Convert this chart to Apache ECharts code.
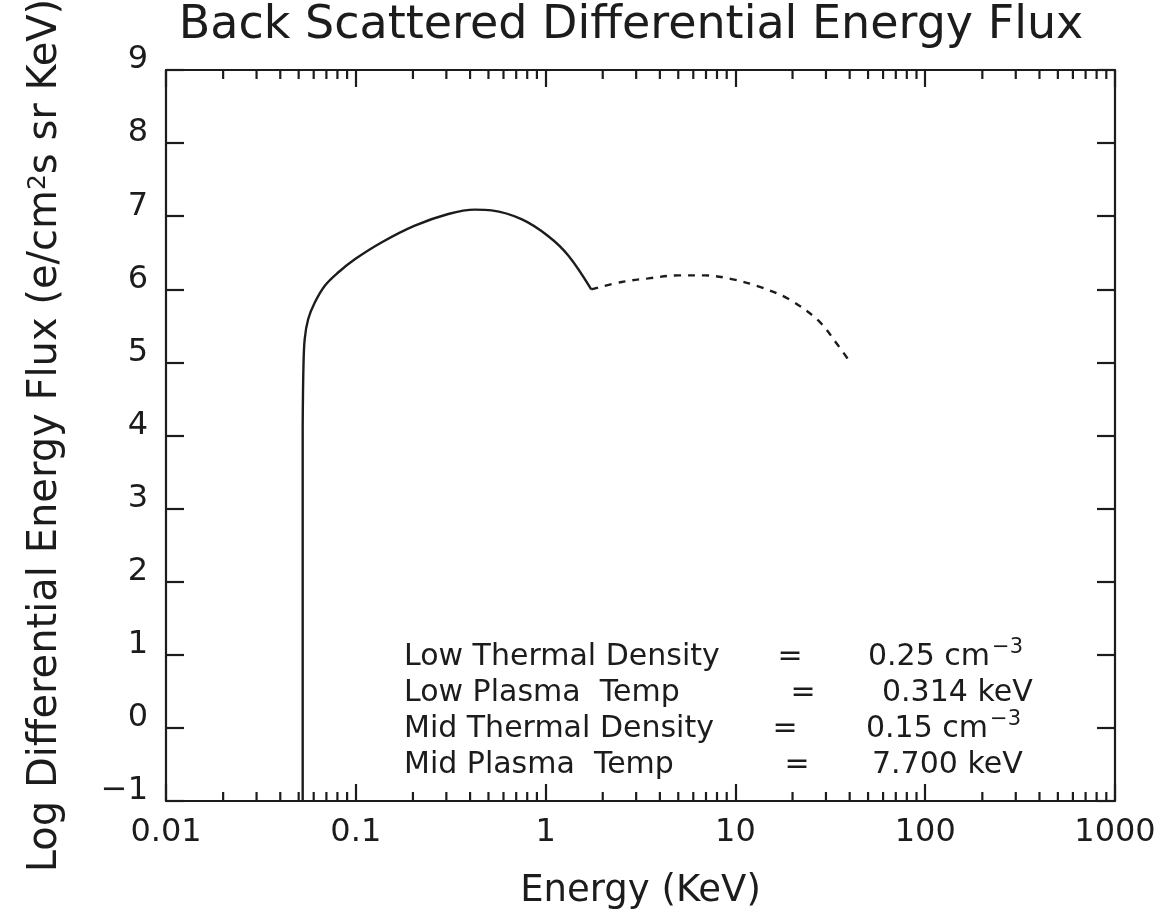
<!DOCTYPE html>
<html>
<head>
<meta charset="utf-8">
<script src="https://cdn.jsdelivr.net/npm/echarts@6/dist/echarts.min.js"></script>
<style>
html,body{margin:0;padding:0;background:#ffffff;}
#chart{width:1174px;height:916px;}
</style>
</head>
<body>
<div id="chart"></div>
<script>
// ---- data ----
const riseEnergy = [0.0525, 0.0525];
const riseFlux   = [-1, 4.13];
const solidEnergy = [0.0525, 0.053, 0.0538, 0.0561, 0.0608, 0.0687, 0.0807, 0.0988, 0.1365, 0.2046, 0.307, 0.424, 0.519, 0.746, 1.03, 1.32, 1.74];
const solidFlux   = [4.13,   4.95,  5.32,   5.59,   5.82,   6.05,   6.23,   6.41,   6.64,   6.87,   7.03,  7.09,  7.08,  6.96,  6.73, 6.46, 6.00];
const dashedEnergy = [1.74, 2.52, 3.48, 5.0, 6.91, 9.55, 13.2, 19.0, 27.4, 34.8, 39.8];
const dashedFlux   = [6.00, 6.10, 6.15, 6.19, 6.19, 6.14, 6.04, 5.87, 5.57, 5.23, 5.02];
const xTickLabels = ['0.01', '0.1', '1', '10', '100', '1000'];
const yTickLabels = ['\u22121', '0', '1', '2', '3', '4', '5', '6', '7', '8', '9'];
const decadeStarts = [0.01, 0.1, 1, 10, 100];
const minorMultipliers = [2, 3, 4, 5, 6, 7, 8, 9];
const annotationLabels = ['Low Thermal Density', 'Low Plasma  Temp', 'Mid Thermal Density', 'Mid Plasma  Temp'];
const annotationValues = ['0.25 cm{sup|\u22123}', '0.314 keV', '0.15 cm{sup|\u22123}', '7.700 keV'];

const X_MIN = 0.01, X_MAX = 1000, Y_MIN = -1, Y_MAX = 9;
const INK = '#1c1c1c';
const FONT = 'DejaVu Sans';

const minorTickValues = [];
decadeStarts.forEach(d => minorMultipliers.forEach(m => minorTickValues.push([d * m, Y_MIN])));

const chart = echarts.init(document.getElementById('chart'), null, {renderer: 'canvas'});

function xLabel(v) {
  const i = Math.round(Math.log10(v)) + 2;
  return xTickLabels[i] !== undefined ? xTickLabels[i] : '';
}
function yLabel(v) {
  const i = Math.round(v) - Y_MIN;
  return yTickLabels[i] !== undefined ? yTickLabels[i] : '';
}

const axisLineStyle = {color: INK, width: 2.2};
const tickStyle = {color: INK, width: 2.2};

// annotation text blocks
const rowY = [657, 693, 729, 765];
const eqX = [790, 803, 785, 797];
const valX = [868, 882, 866, 872];
const graphics = [];
annotationLabels.forEach((lab, i) => {
  graphics.push({type: 'text', x: 404, y: rowY[i], silent: true,
    style: {text: lab, fill: INK, fontSize: 30, fontFamily: FONT, textAlign: 'left', textVerticalAlign: 'middle'}});
  graphics.push({type: 'text', x: eqX[i], y: rowY[i], silent: true,
    style: {text: '=', fill: INK, fontSize: 30, fontFamily: FONT, textAlign: 'center', textVerticalAlign: 'middle'}});
  graphics.push({type: 'text', x: valX[i], y: rowY[i], silent: true,
    style: {text: annotationValues[i], fill: INK, fontSize: 30, fontFamily: FONT, textAlign: 'left', textVerticalAlign: 'middle',
      rich: {sup: {fontSize: 21, fontFamily: FONT, fill: INK, color: INK, verticalAlign: 'top', padding: [0, 0, 18, 2]}}}});
});

const option = {
  backgroundColor: '#ffffff',
  animation: false,
  title: {
    text: 'Back Scattered Differential Energy Flux',
    left: 631, top: 3, textAlign: 'center', padding: 0,
    textStyle: {fontSize: 46, fontWeight: 'normal', fontFamily: FONT, color: INK}
  },
  grid: {left: 166, right: 59, top: 70, bottom: 115, containLabel: false, outerBoundsMode: 'none'},
  xAxis: [
    {
      type: 'log', logBase: 10, min: X_MIN, max: X_MAX, position: 'bottom',
      name: 'Energy (KeV)', nameLocation: 'middle', nameGap: 72,
      nameTextStyle: {fontSize: 37, fontFamily: FONT, color: INK},
      axisLine: {show: true, onZero: false, lineStyle: axisLineStyle},
      axisTick: {show: true, inside: true, length: 17, lineStyle: tickStyle},
      axisLabel: {show: true, margin: 16, fontSize: 32, fontFamily: FONT, color: INK, formatter: xLabel},
      splitLine: {show: false}, minorTick: {show: false}
    },
    {
      type: 'log', logBase: 10, min: X_MIN, max: X_MAX, position: 'top',
      axisLine: {show: true, onZero: false, lineStyle: axisLineStyle},
      axisTick: {show: true, inside: true, length: 17, lineStyle: tickStyle},
      axisLabel: {show: false},
      splitLine: {show: false}
    }
  ],
  yAxis: [
    {
      type: 'value', min: Y_MIN, max: Y_MAX, interval: 1, position: 'left',
      name: 'Log Differential Energy Flux (e/cm{sup|2}s sr KeV)',
      nameLocation: 'middle', nameGap: 100, nameRotate: 90,
      nameTextStyle: {fontSize: 40, fontFamily: FONT, color: INK,
        rich: {sup: {fontSize: 25, fontFamily: FONT, color: INK, verticalAlign: 'top'}}},
      axisLine: {show: true, onZero: false, lineStyle: axisLineStyle},
      axisTick: {show: true, inside: true, length: 18, lineStyle: tickStyle},
      axisLabel: {show: true, margin: 18, fontSize: 32, fontFamily: FONT, color: INK,
        verticalAlign: 'bottom', lineHeight: 20, formatter: yLabel},
      splitLine: {show: false}
    },
    {
      type: 'value', min: Y_MIN, max: Y_MAX, interval: 1, position: 'right',
      axisLine: {show: true, onZero: false, lineStyle: axisLineStyle},
      axisTick: {show: true, inside: true, length: 18, lineStyle: tickStyle},
      axisLabel: {show: false},
      splitLine: {show: false}
    }
  ],
  series: [
    {
      type: 'line', xAxisIndex: 0, yAxisIndex: 0,
      data: riseEnergy.map((e, i) => [e, riseFlux[i]]),
      showSymbol: false, symbol: 'none', smooth: false,
      lineStyle: {color: INK, width: 2.4, type: 'solid'}, silent: true
    },
    {
      type: 'line', xAxisIndex: 0, yAxisIndex: 0,
      data: solidEnergy.map((e, i) => [e, solidFlux[i]]),
      showSymbol: false, symbol: 'none', smooth: 0.35,
      lineStyle: {color: INK, width: 2.4, type: 'solid'}, silent: true
    },
    {
      type: 'line', xAxisIndex: 0, yAxisIndex: 0,
      data: dashedEnergy.map((e, i) => [e, dashedFlux[i]]),
      showSymbol: false, symbol: 'none', smooth: 0.35,
      lineStyle: {color: INK, width: 2.4, type: [7, 7]}, silent: true
    },
    {
      type: 'custom', xAxisIndex: 0, yAxisIndex: 0, silent: true, clip: false,
      data: minorTickValues,
      renderItem: function (params, api) {
        const v = api.value(0);
        const b = api.coord([v, Y_MIN]);
        const t = api.coord([v, Y_MAX]);
        const len = 9;
        const st = {stroke: INK, lineWidth: 2.2};
        return {type: 'group', children: [
          {type: 'line', shape: {x1: b[0], y1: b[1], x2: b[0], y2: b[1] - len}, style: st},
          {type: 'line', shape: {x1: t[0], y1: t[1], x2: t[0], y2: t[1] + len}, style: st}
        ]};
      }
    }
  ],
  graphic: graphics
};
chart.setOption(option);
</script>
</body>
</html>
